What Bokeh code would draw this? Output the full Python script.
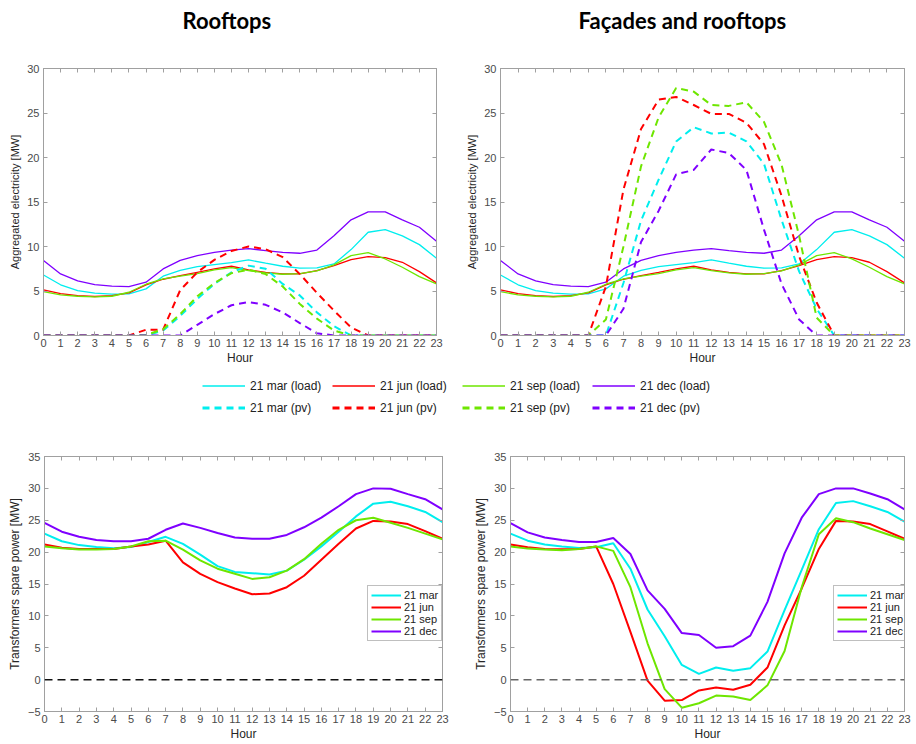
from bokeh.plotting import figure
from bokeh.models import Range1d, FixedTicker, LinearAxis, Legend, LegendItem, Span, Label
from bokeh.layouts import column, row
from bokeh.embed import file_html
from bokeh.resources import INLINE

HOURS = list(range(24))
DAYS = ["21 mar", "21 jun", "21 sep", "21 dec"]
COLORS = ["#00EEEE", "#FF0000", "#6EE600", "#7F00FF"]
TITLES = ["Rooftops", "Façades and rooftops"]

# ---- aggregated load (same in both scenarios) [MW]
load_mar = [6.8, 5.7, 5.05, 4.75, 4.64, 4.68, 5.24, 6.66, 7.33, 7.74, 7.97, 8.19,
            8.49, 8.12, 7.78, 7.56, 7.6, 8.04, 9.65, 11.6, 11.9, 11.19, 10.21, 8.68]
load_jun = [5.12, 4.71, 4.49, 4.38, 4.49, 4.79, 5.69, 6.32, 6.73, 7.1, 7.48, 7.78,
            7.37, 7.1, 6.92, 6.92, 7.3, 7.86, 8.53, 8.87, 8.75, 8.23, 7.18, 5.91]
load_sep = [4.94, 4.56, 4.41, 4.34, 4.41, 4.86, 5.76, 6.36, 6.66, 6.96, 7.37, 7.63,
            7.3, 7.03, 6.88, 6.96, 7.26, 7.93, 8.98, 9.32, 8.6, 7.67, 6.62, 5.8]
load_dec = [8.42, 6.92, 6.14, 5.72, 5.54, 5.5, 5.99, 7.48, 8.45, 8.98, 9.35, 9.6,
            9.76, 9.54, 9.35, 9.24, 9.6, 11.2, 13.0, 13.9, 13.9, 13.0, 12.16, 10.6]

# ---- PV production, rooftops [MW]
pv_roof_mar = [0, 0, 0, 0, 0, 0, 0, 0.55, 2.2, 4.1, 5.8, 7.1,
               7.85, 7.5, 5.8, 4.5, 2.6, 1.05, 0, 0, 0, 0, 0, 0]
pv_roof_jun = [0, 0, 0, 0, 0, 0, 0.65, 0.65, 5.1, 7.1, 8.5, 9.5,
               10.0, 9.7, 8.8, 6.9, 4.8, 2.8, 0.9, 0, 0, 0, 0, 0]
pv_roof_sep = [0, 0, 0, 0, 0, 0, 0.05, 0.7, 2.4, 4.4, 5.9, 7.0,
               7.4, 6.9, 5.5, 3.55, 1.9, 0.56, 0, 0, 0, 0, 0, 0]
pv_roof_dec = [0, 0, 0, 0, 0, 0, 0, 0, 0, 1.2, 2.4, 3.4,
               3.75, 3.45, 2.6, 1.4, 0.25, 0, 0, 0, 0, 0, 0, 0]

# ---- PV production, facades and rooftops [MW]
pv_fac_mar = [0, 0, 0, 0, 0, 0, 0, 5.9, 12.9, 17.5, 21.8, 23.4,
              22.7, 22.8, 21.8, 19.3, 13.0, 7.2, 3.0, 0, 0, 0, 0, 0]
pv_fac_jun = [0, 0, 0, 0, 0, 0, 5.5, 16.4, 23.2, 26.5, 26.8, 25.9,
              24.9, 24.9, 23.9, 21.5, 15.7, 8.9, 3.7, 0, 0, 0, 0, 0]
pv_fac_sep = [0, 0, 0, 0, 0, 0, 1.8, 10.0, 19.0, 24.5, 27.8, 27.4,
              25.9, 25.8, 26.2, 24.0, 19.2, 11.2, 2.0, 0, 0, 0, 0, 0]
pv_fac_dec = [0, 0, 0, 0, 0, 0, 0, 3.0, 10.5, 14.0, 18.1, 18.6,
              20.9, 20.5, 18.6, 11.9, 5.8, 1.8, 0, 0, 0, 0, 0, 0]

# ---- transformers spare power, rooftops [MW]
spare_roof_mar = [22.9, 21.7, 21.1, 20.8, 20.6, 20.8, 21.6, 22.4, 21.3, 19.6, 17.8, 16.9,
                  16.7, 16.5, 17.1, 18.8, 20.9, 23.2, 25.6, 27.6, 27.9, 27.2, 26.3, 24.7]
spare_roof_jun = [21.2, 20.7, 20.5, 20.5, 20.5, 20.9, 21.2, 21.8, 18.4, 16.6, 15.3, 14.3,
                  13.4, 13.5, 14.5, 16.3, 18.8, 21.3, 23.7, 24.9, 24.8, 24.4, 23.3, 22.1]
spare_roof_sep = [20.9, 20.6, 20.4, 20.4, 20.5, 20.9, 21.7, 21.8, 20.4, 18.7, 17.4, 16.6,
                  15.8, 16.05, 17.1, 18.9, 21.3, 23.5, 25.0, 25.4, 24.6, 23.8, 22.9, 22.0]
spare_roof_dec = [24.6, 23.2, 22.4, 21.9, 21.7, 21.7, 22.1, 23.5, 24.5, 23.8, 23.0, 22.3,
                  22.1, 22.1, 22.7, 23.9, 25.4, 27.2, 29.1, 30.0, 29.95, 29.1, 28.3, 26.7]

# ---- transformers spare power, facades and rooftops [MW]
spare_fac_mar = [22.9, 21.8, 21.2, 20.9, 20.65, 20.75, 21.4, 17.4, 11.0, 6.8, 2.3, 0.9,
                 1.9, 1.4, 1.8, 4.4, 10.9, 17.2, 23.6, 27.7, 28.0, 27.2, 26.3, 24.8]
spare_fac_jun = [21.2, 20.75, 20.5, 20.45, 20.5, 20.9, 15.0, 7.5, -0.15, -3.3, -3.2, -1.7,
                 -1.25, -1.6, -0.8, 1.9, 8.5, 14.3, 20.5, 24.9, 24.8, 24.4, 23.25, 22.1]
spare_fac_sep = [20.9, 20.55, 20.4, 20.3, 20.5, 20.9, 20.2, 14.5, 5.7, -1.5, -4.4, -3.7,
                 -2.5, -2.65, -3.2, -0.9, 4.5, 14.5, 22.8, 25.3, 24.7, 23.7, 22.8, 21.9]
spare_fac_dec = [24.55, 23.1, 22.3, 21.9, 21.6, 21.6, 22.2, 19.7, 14.0, 11.1, 7.3, 7.0,
                 5.0, 5.25, 6.9, 12.2, 19.8, 25.4, 29.1, 30.0, 30.0, 29.2, 28.3, 26.7]

LOADS = [load_mar, load_jun, load_sep, load_dec]
PV_ROOF = [pv_roof_mar, pv_roof_jun, pv_roof_sep, pv_roof_dec]
PV_FAC = [pv_fac_mar, pv_fac_jun, pv_fac_sep, pv_fac_dec]
SPARE_ROOF = [spare_roof_mar, spare_roof_jun, spare_roof_sep, spare_roof_dec]
SPARE_FAC = [spare_fac_mar, spare_fac_jun, spare_fac_sep, spare_fac_dec]

GRAY = "#a0a0a0"
FONT = "Liberation Sans"
PV_DASH = "7 5"


def blank_strip(width, height):
    s = figure(width=width, height=height, x_range=Range1d(0, 1), y_range=Range1d(0, 1),
               output_backend="svg", toolbar_location=None,
               min_border_left=0, min_border_right=0, min_border_top=0, min_border_bottom=0)
    s.axis.visible = False
    s.grid.visible = False
    s.outline_line_color = None
    return s


def styled_fig(width, height, ylo, yhi, ylabel, ylabel_size, bl, br, bt, bb):
    p = figure(width=width, height=height, x_range=Range1d(0, 23), y_range=Range1d(ylo, yhi),
               output_backend="svg", toolbar_location=None,
               min_border_left=bl, min_border_right=br, min_border_top=bt, min_border_bottom=bb)
    p.xgrid.visible = False
    p.ygrid.visible = False
    p.outline_line_color = GRAY
    yt = list(range(ylo, yhi + 1, 5))
    p.xaxis.ticker = FixedTicker(ticks=HOURS)
    p.yaxis.ticker = FixedTicker(ticks=yt)
    for ax in (p.xaxis[0], p.yaxis[0]):
        ax.axis_line_color = GRAY
        ax.major_tick_line_color = GRAY
        ax.major_tick_in = 4
        ax.major_tick_out = 0
        ax.minor_tick_line_color = None
        ax.major_label_text_font = FONT
        ax.major_label_text_font_size = "11px"
        ax.major_label_text_color = "#4a4a4a"
        ax.axis_label_text_font = FONT
        ax.axis_label_text_font_style = "normal"
        ax.axis_label_text_color = "#262626"
        ax.axis_label_text_font_size = "12px"
    p.yaxis.axis_label_text_font_size = ylabel_size
    p.xaxis.axis_label = "Hour"
    p.yaxis.axis_label = ylabel
    p.xaxis.major_label_standoff = 3
    p.xaxis.axis_label_standoff = 1
    p.yaxis.major_label_standoff = 4
    p.yaxis.axis_label_standoff = 3
    # inward ticks on the top and right edges of the box (no labels drawn)
    for side, tk in (("above", HOURS), ("right", yt)):
        ax = LinearAxis(ticker=FixedTicker(ticks=tk), axis_line_color=GRAY,
                        major_tick_line_color=GRAY, major_tick_in=4, major_tick_out=0,
                        minor_tick_line_color=None, major_label_text_font_size="1px",
                        major_label_text_color=None, major_label_standoff=0)
        p.add_layout(ax, side)
    return p


# ---- header with the two panel titles
hdr = blank_strip(916, 40)
for t, x in zip(TITLES, (182, 578)):
    hdr.add_layout(Label(x=x, y=20, x_units="screen", y_units="screen", text=t,
                         text_font="Lato", text_font_size="22px", text_font_style="bold",
                         text_color="black", text_align="left", text_baseline="middle"))

# ---- top row
tl = styled_fig(463, 328, 0, 30, "Aggregated electricity [MW]", "11px", 43, 27, 28, 33)
tr = styled_fig(453, 328, 0, 30, "Aggregated electricity [MW]", "11px", 35, 12, 28, 33)
for p, pvs in ((tl, PV_ROOF), (tr, PV_FAC)):
    for ld, c in zip(LOADS, COLORS):
        p.line(HOURS, ld, line_color=c, line_width=1.3)
    for pv, c in zip(pvs, COLORS):
        p.line(HOURS, pv, line_color=c, line_width=2, line_dash=PV_DASH)

# ---- shared legend strip
lg = figure(width=916, height=64, x_range=Range1d(0, 23), y_range=Range1d(1000, 1001),
            output_backend="svg", toolbar_location=None,
            min_border_left=0, min_border_right=0, min_border_top=0, min_border_bottom=0)
lg.axis.visible = False
lg.grid.visible = False
lg.outline_line_color = None
items = []
for d, ld, pv, c in zip(DAYS, LOADS, PV_ROOF, COLORS):
    r1 = lg.line(HOURS, ld, line_color=c, line_width=1.3)
    r2 = lg.line(HOURS, pv, line_color=c, line_width=3, line_dash=PV_DASH)
    items.append(LegendItem(label=d + " (load)", renderers=[r1]))
    items.append(LegendItem(label=d + " (pv)", renderers=[r2]))
leg = Legend(items=items, orientation="vertical", nrows=2, location=(202, 15),
             glyph_width=43, glyph_height=19, label_standoff=5, label_width=79,
             spacing=3, padding=0, margin=0, border_line_color=None,
             background_fill_alpha=0, label_text_font=FONT, label_text_font_size="12px",
             label_text_color="#222222")
lg.add_layout(leg, "center")

# ---- bottom row
bl = styled_fig(470, 311, -5, 35, "Transformers spare power [MW]", "12px", 44, 28, 24, 32)
br = styled_fig(446, 311, -5, 35, "Transformers spare power [MW]", "12px", 36, 12, 24, 32)
for p, data, zc in ((bl, SPARE_ROOF, "#111111"), (br, SPARE_FAC, "#666666")):
    p.add_layout(Span(location=0, dimension="width", line_color=zc, line_width=1.5,
                      line_dash="8 5"))
    its = []
    for d, vals, c in zip(DAYS, data, COLORS):
        r = p.line(HOURS, vals, line_color=c, line_width=2)
        its.append(LegendItem(label=d, renderers=[r]))
    L = Legend(items=its, location=(323, 70), glyph_width=30, glyph_height=12,
               label_standoff=3, label_height=12, spacing=0, padding=3, margin=0,
               border_line_color="#808080", border_line_width=1,
               label_text_font=FONT, label_text_font_size="11px", label_text_color="#222222")
    p.add_layout(L, "center")

layout = column(hdr, row(tl, tr), lg, row(bl, br))
open("out.html", "w").write(file_html(layout, INLINE))
